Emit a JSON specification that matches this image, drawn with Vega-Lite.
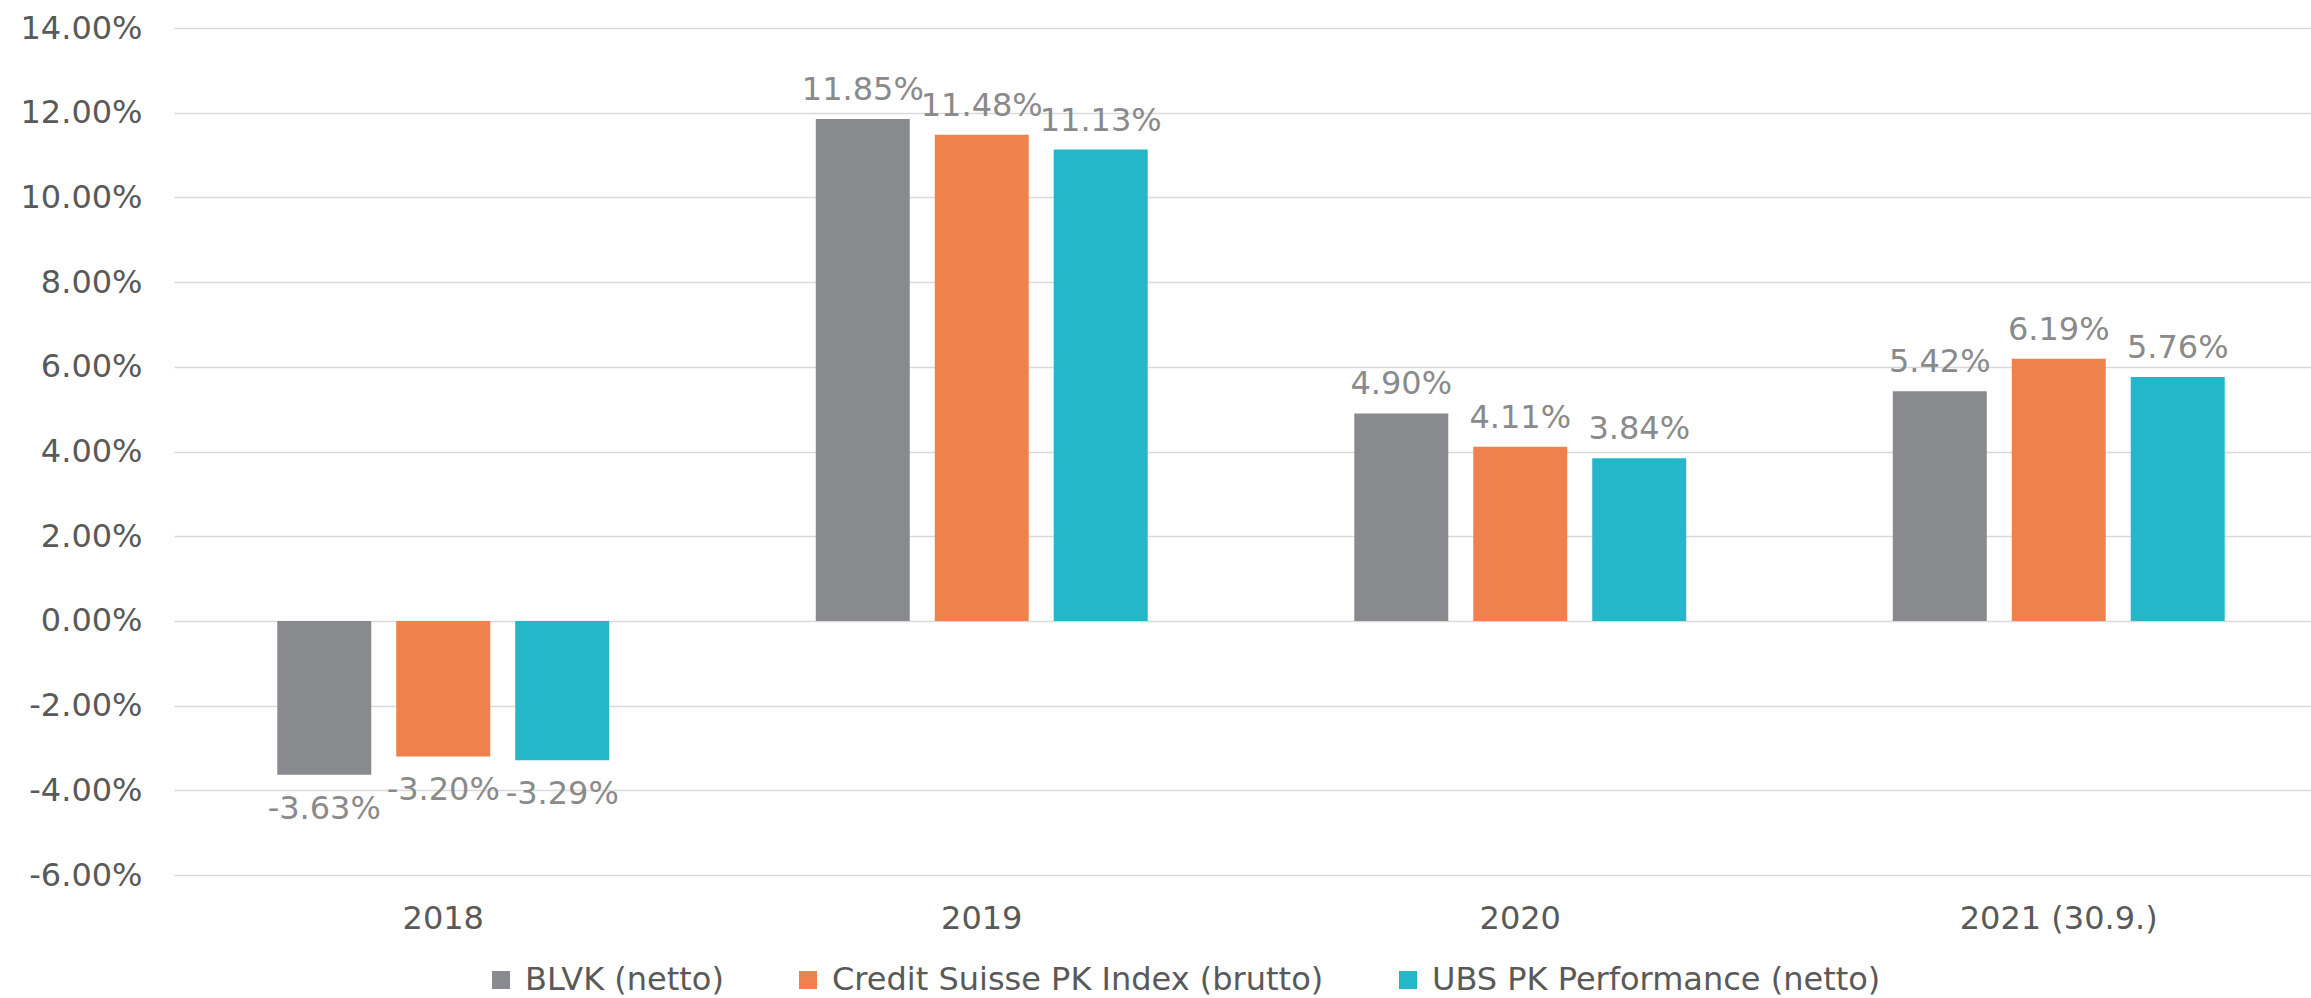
{
  "$schema": "https://vega.github.io/schema/vega-lite/v6.json",
  "width": 2137,
  "height": 847,
  "autosize": {"type": "none"},
  "padding": {"left": 174, "top": 28, "right": 0, "bottom": 123},
  "config": {
    "locale": {"number": {"decimal": ".", "thousands": ",", "grouping": [3], "currency": ["$", ""], "minus": "-"}},
    "view": {"stroke": null},
    "font": "DejaVu Sans"
  },
  "data": {
    "values": [
      {"year": "2018", "series": "BLVK (netto)", "value": -0.0363},
      {"year": "2018", "series": "Credit Suisse PK Index (brutto)", "value": -0.032},
      {"year": "2018", "series": "UBS PK Performance (netto)", "value": -0.0329},
      {"year": "2019", "series": "BLVK (netto)", "value": 0.1185},
      {"year": "2019", "series": "Credit Suisse PK Index (brutto)", "value": 0.1148},
      {"year": "2019", "series": "UBS PK Performance (netto)", "value": 0.1113},
      {"year": "2020", "series": "BLVK (netto)", "value": 0.049},
      {"year": "2020", "series": "Credit Suisse PK Index (brutto)", "value": 0.0411},
      {"year": "2020", "series": "UBS PK Performance (netto)", "value": 0.0384},
      {"year": "2021 (30.9.)", "series": "BLVK (netto)", "value": 0.0542},
      {"year": "2021 (30.9.)", "series": "Credit Suisse PK Index (brutto)", "value": 0.0619},
      {"year": "2021 (30.9.)", "series": "UBS PK Performance (netto)", "value": 0.0576}
    ]
  },
  "encoding": {
    "x": {
      "field": "year", "type": "nominal", "sort": null,
      "scale": {"range": [0, 2154], "paddingInner": 0.3836, "paddingOuter": 0.1918},
      "axis": {"title": null, "labelAngle": 0, "ticks": false, "tickSize": 0, "domain": false, "labelFontSize": 32, "labelColor": "#595959", "labelPadding": 28, "labelBaseline": "top", "labelLimit": 1000}
    },
    "xOffset": {
      "field": "series", "type": "nominal",
      "sort": ["BLVK (netto)", "Credit Suisse PK Index (brutto)", "UBS PK Performance (netto)"],
      "scale": {"paddingInner": 0.21, "paddingOuter": 0}
    },
    "y": {
      "field": "value", "type": "quantitative",
      "scale": {"domain": [-0.06, 0.14], "nice": false, "zero": false},
      "axis": {
        "title": null, "format": ".2%", "values": [-0.06, -0.04, -0.02, 0, 0.02, 0.04, 0.06, 0.08, 0.1, 0.12, 0.14],
        "ticks": false, "tickSize": 0, "domain": false, "labelFontSize": 32, "labelColor": "#595959", "labelPadding": 32,
        "gridColor": "#d9d9d9", "gridWidth": 1.5
      }
    }
  },
  "layer": [
    {
      "mark": {"type": "bar"},
      "encoding": {
        "color": {
          "field": "series", "type": "nominal",
          "sort": ["BLVK (netto)", "Credit Suisse PK Index (brutto)", "UBS PK Performance (netto)"],
          "scale": {"domain": ["BLVK (netto)", "Credit Suisse PK Index (brutto)", "UBS PK Performance (netto)"], "range": ["#898A8E", "#EF814D", "#26B6CA"]},
          "legend": {
            "title": null, "orient": "none", "direction": "horizontal", "legendX": 311, "legendY": 936,
            "symbolType": "square", "symbolSize": 324, "symbolStrokeWidth": 0, "labelFontSize": 32, "labelColor": "#595959",
            "labelOffset": 8, "columnPadding": 68, "labelLimit": 1000
          }
        }
      }
    },
    {
      "transform": [{"filter": "datum.value >= 0"}],
      "mark": {"type": "text", "baseline": "alphabetic", "align": "center", "dy": -19, "fontSize": 32, "color": "#8a8a8a"},
      "encoding": {"text": {"field": "value", "type": "quantitative", "format": ".2%"}}
    },
    {
      "transform": [{"filter": "datum.value < 0"}],
      "mark": {"type": "text", "baseline": "alphabetic", "align": "center", "dy": 44, "fontSize": 32, "color": "#8a8a8a"},
      "encoding": {"text": {"field": "value", "type": "quantitative", "format": ".2%"}}
    }
  ]
}
